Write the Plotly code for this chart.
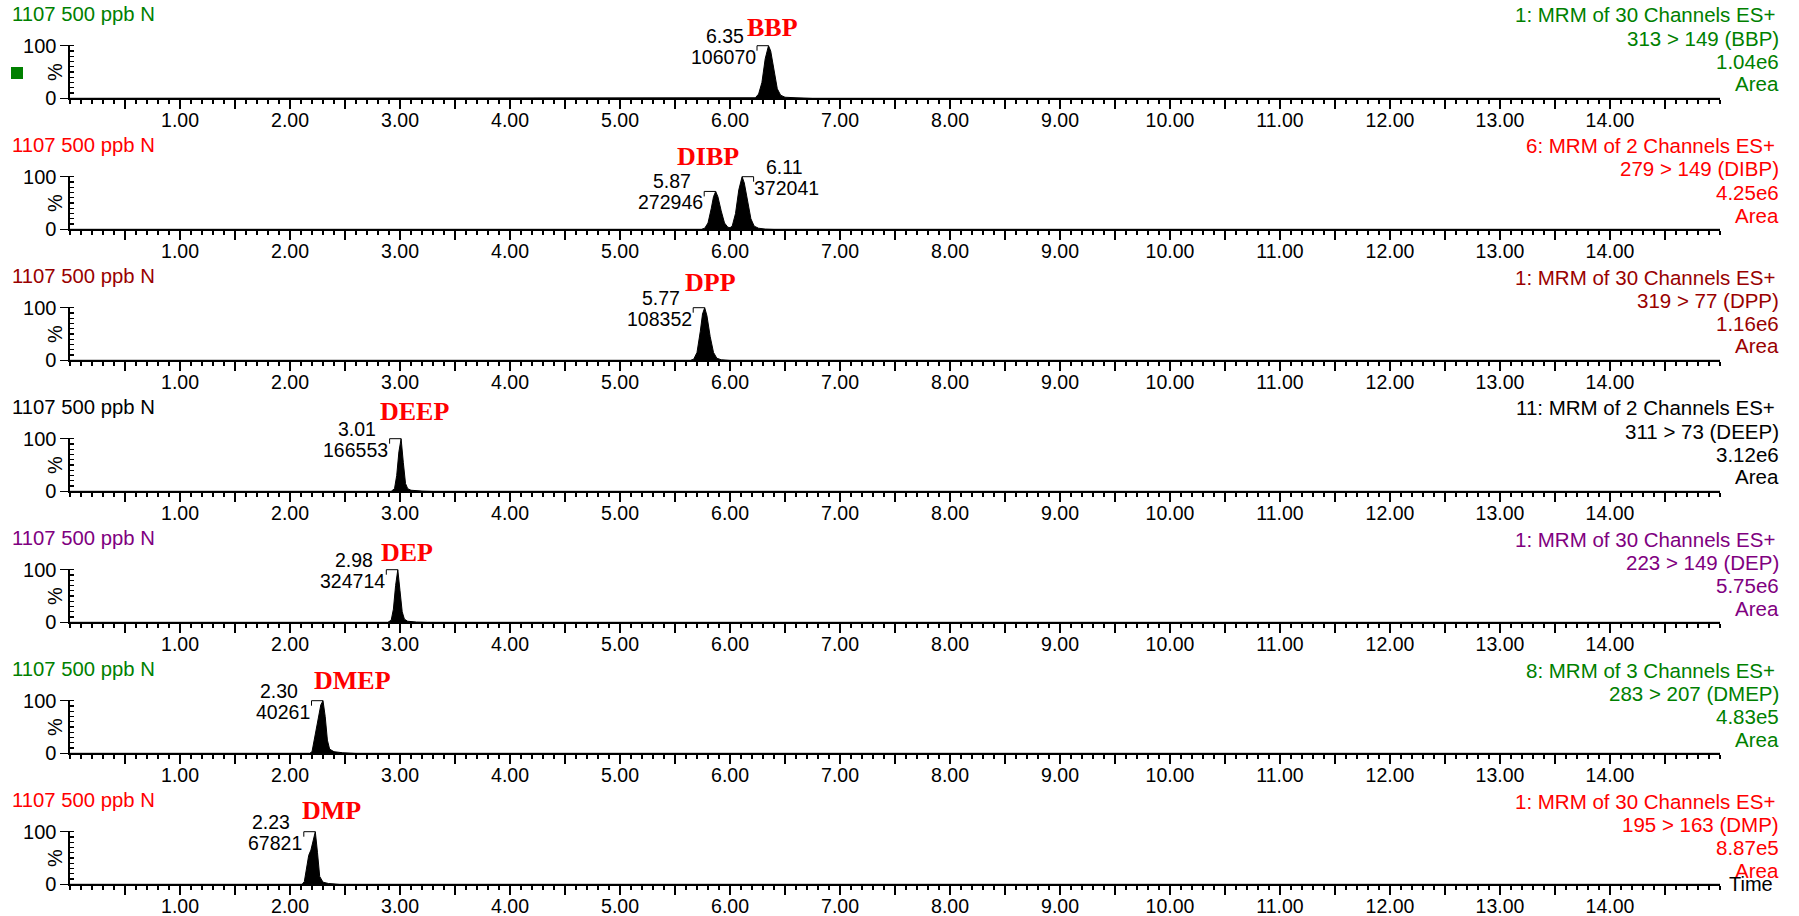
import plotly.graph_objects as go

# ---------------- data ----------------
panel_titles = ["1107 500 ppb N"] * 7
channel_lines = ["1: MRM of 30 Channels ES+", "6: MRM of 2 Channels ES+", "1: MRM of 30 Channels ES+",
                 "11: MRM of 2 Channels ES+", "1: MRM of 30 Channels ES+", "8: MRM of 3 Channels ES+",
                 "1: MRM of 30 Channels ES+"]
transitions = ["313 > 149 (BBP)", "279 > 149 (DIBP)", "319 > 77 (DPP)", "311 > 73 (DEEP)",
               "223 > 149 (DEP)", "283 > 207 (DMEP)", "195 > 163 (DMP)"]
intensities = ["1.04e6", "4.25e6", "1.16e6", "3.12e6", "5.75e6", "4.83e5", "8.87e5"]
compounds = ["BBP", "DIBP", "DPP", "DEEP", "DEP", "DMEP", "DMP"]
panel_colors = ["#008000", "#ff0000", "#990000", "#000000", "#800080", "#008000", "#ff0000"]

# chromatogram traces (time, %)
t_bbp = [0.0, 6.20, 6.23, 6.26, 6.29, 6.32, 6.35, 6.37, 6.40, 6.43, 6.46, 6.50, 6.60, 6.75, 15.0]
p_bbp = [0, 0, 1, 8, 30, 75, 100, 90, 50, 18, 6, 2, 1, 0, 0]

t_dibp = [0.0, 5.74, 5.77, 5.80, 5.83, 5.85, 5.87, 5.89, 5.92, 5.95, 5.98, 6.00, 6.02, 6.05, 6.08,
          6.11, 6.13, 6.16, 6.19, 6.22, 6.26, 6.32, 6.40, 15.0]
p_dibp = [0, 0, 2, 12, 40, 62, 72, 62, 35, 12, 4, 3, 6, 30, 75, 100, 88, 50, 20, 6, 2, 0.5, 0, 0]

t_dpp = [0.0, 5.64, 5.67, 5.70, 5.73, 5.75, 5.77, 5.79, 5.82, 5.85, 5.88, 5.92, 6.00, 15.0]
p_dpp = [0, 0, 2, 15, 55, 88, 100, 85, 45, 15, 4, 1, 0, 0]

t_deep = [0.0, 2.92, 2.95, 2.97, 2.99, 3.01, 3.03, 3.05, 3.07, 3.10, 3.20, 3.30, 15.0]
p_deep = [0, 0, 5, 30, 75, 100, 55, 15, 5, 2, 0.5, 0, 0]

t_dep = [0.0, 2.89, 2.92, 2.94, 2.96, 2.98, 3.00, 3.02, 3.04, 3.07, 3.15, 3.25, 15.0]
p_dep = [0, 0, 4, 25, 70, 100, 60, 20, 6, 2, 0.5, 0, 0]

t_dmep = [0.0, 2.18, 2.20, 2.22, 2.25, 2.28, 2.30, 2.32, 2.34, 2.36, 2.40, 2.48, 2.60, 15.0]
p_dmep = [0, 0, 3, 25, 60, 92, 100, 70, 25, 8, 3, 1, 0, 0]

t_dmp = [0.0, 2.11, 2.13, 2.15, 2.17, 2.19, 2.21, 2.23, 2.25, 2.27, 2.30, 2.35, 2.45, 15.0]
p_dmp = [0, 0, 5, 30, 55, 65, 85, 100, 60, 15, 4, 1.5, 0, 0]

traces_t = [t_bbp, t_dibp, t_dpp, t_deep, t_dep, t_dmep, t_dmp]
traces_p = [p_bbp, p_dibp, p_dpp, p_deep, p_dep, p_dmep, p_dmp]

# labelled peaks per panel: retention time, area, apex height (%)
peak_rt = [[6.35], [5.87, 6.11], [5.77], [3.01], [2.98], [2.30], [2.23]]
peak_area = [["106070"], ["272946", "372041"], ["108352"], ["166553"], ["324714"], ["40261"], ["67821"]]
peak_height = [[100], [72, 100], [100], [100], [100], [100], [100]]
peak_side = [["left"], ["left", "right"], ["left"], ["left"], ["left"], ["left"], ["left"]]

x_tick_labels = ["1.00", "2.00", "3.00", "4.00", "5.00", "6.00", "7.00",
                 "8.00", "9.00", "10.00", "11.00", "12.00", "13.00", "14.00"]

# ---------------- layout constants (positions / styles) ----------------
W, H = 1799, 916
PANEL_STEP = 131.0
Y100_PX = 45.7
Y0_PX = 98.3
X0_PX, X1_PX = 70, 1720
YMAX = 102
compound_label_pos = [(6.39, 134), (5.80, 139), (5.82, 147), (3.136, 151), (3.064, 132), (2.568, 139), (2.373, 141)]

TXT_FONT = "Liberation Sans, Arial, sans-serif"
SERIF = "Liberation Serif, Times New Roman, serif"


def py(px):
    return 1 - px / H


def pxf(px):
    return px / W


fig = go.Figure()
annotations = []
shapes = []
layout = {}

px_per_pct = (Y0_PX - Y100_PX) / 100.0
bracket_dt = 11.5 / ((X1_PX - X0_PX) / 15.0)
bracket_dp = 5.0 / px_per_pct

for i in range(7):
    n = i + 1
    xa = "x" if n == 1 else f"x{n}"
    ya = "y" if n == 1 else f"y{n}"
    y0 = Y0_PX + PANEL_STEP * i
    ytop = y0 - YMAX * px_per_pct
    col = panel_colors[i]

    fig.add_trace(go.Scatter(x=traces_t[i], y=traces_p[i], mode="lines", fill="tozeroy",
                             fillcolor="black", line=dict(color="black", width=1),
                             xaxis=xa, yaxis=ya, showlegend=False, hoverinfo="skip"))

    # peak brackets
    for rt, h, side in zip(peak_rt[i], peak_height[i], peak_side[i]):
        end = rt - bracket_dt if side == "left" else rt + bracket_dt
        fig.add_trace(go.Scatter(x=[end, end, rt], y=[h - bracket_dp, h, h], mode="lines",
                                 line=dict(color="black", width=1), xaxis=xa, yaxis=ya,
                                 showlegend=False, hoverinfo="skip"))
    for rt, area, h, side in zip(peak_rt[i], peak_area[i], peak_height[i], peak_side[i]):
        if side == "left":
            anchor, s_top, s_bot = "right", -23, -11
        else:
            anchor, s_top, s_bot = "left", 22, 10
        annotations.append(dict(x=rt, y=h, xref=xa, yref=ya, text=f"{rt:.2f}", showarrow=False,
                                xanchor=anchor, yanchor="middle", xshift=s_top, yshift=10,
                                font=dict(family=TXT_FONT, size=19.5, color="black")))
        annotations.append(dict(x=rt, y=h, xref=xa, yref=ya, text=area, showarrow=False,
                                xanchor=anchor, yanchor="middle", xshift=s_bot, yshift=-11,
                                font=dict(family=TXT_FONT, size=19.5, color="black")))

    lx, lpct = compound_label_pos[i]
    annotations.append(dict(x=lx, y=py(y0 - lpct * px_per_pct), xref=xa, yref="paper",
                            text=f"<b>{compounds[i]}</b>", showarrow=False,
                            xanchor="center", yanchor="middle",
                            font=dict(family=SERIF, size=26, color="#ff0000")))

    # headers
    base = PANEL_STEP * i
    annotations.append(dict(x=pxf(10), y=py(14 + base), xref="paper", yref="paper", text=panel_titles[i],
                            showarrow=False, xanchor="left", yanchor="middle",
                            font=dict(family=TXT_FONT, size=20.3, color=col)))
    for k, txt in enumerate([channel_lines[i], transitions[i], intensities[i], "Area"]):
        annotations.append(dict(x=pxf(1781 if k else 1777), y=py(15 + 23 * k + base), xref="paper", yref="paper",
                                text=txt, showarrow=False, xanchor="right", yanchor="middle",
                                font=dict(family=TXT_FONT, size=20.5, color=col)))
    # % label
    annotations.append(dict(x=pxf(55), y=py((Y100_PX + Y0_PX) / 2 + base), xref="paper", yref="paper",
                            text="%", showarrow=False, textangle=-90, xanchor="center", yanchor="middle",
                            font=dict(family=TXT_FONT, size=20, color="black")))

    xkey = "xaxis" if n == 1 else f"xaxis{n}"
    ykey = "yaxis" if n == 1 else f"yaxis{n}"
    tickvals = [k * 0.5 for k in range(1, 30)]
    ticktext = [x_tick_labels[int(v) - 1] if float(v).is_integer() else "" for v in tickvals]
    layout[xkey] = dict(domain=[pxf(X0_PX), pxf(X1_PX)], anchor=ya, range=[0, 15], automargin=False,
                        showgrid=False, zeroline=False, showline=True, linecolor="black", linewidth=1.6,
                        ticks="outside", ticklen=9, tickwidth=1.2, tickcolor="black",
                        tickvals=tickvals, ticktext=ticktext, ticklabelstandoff=-5,
                        tickfont=dict(family=TXT_FONT, size=19.5, color="black"),
                        minor=dict(dtick=0.1, tick0=0, ticks="outside", ticklen=4, tickwidth=1.1,
                                   tickcolor="black"))
    layout[ykey] = dict(domain=[py(y0), py(ytop)], anchor=xa, range=[0, YMAX], automargin=False,
                        showgrid=False, zeroline=False, showline=True, linecolor="black", linewidth=1.6,
                        ticks="outside", ticklen=8, tickwidth=1.2, tickcolor="black",
                        tickvals=[0, 100], ticktext=["0", "100"], ticklabelstandoff=0,
                        tickfont=dict(family=TXT_FONT, size=20, color="black"),
                        minor=dict(dtick=10, tick0=0, ticks="inside", ticklen=4, tickwidth=1.1,
                                   tickcolor="black"))

annotations.append(dict(x=pxf(1727), y=py(884), xref="paper", yref="paper", text="Time", showarrow=False,
                        xanchor="left", yanchor="middle", font=dict(family=TXT_FONT, size=20, color="black")))

shapes.append(dict(type="rect", xref="paper", yref="paper", x0=pxf(11), x1=pxf(23), y0=py(79), y1=py(67),
                   fillcolor="#008000", line=dict(width=0)))

fig.update_layout(width=W, height=H, margin=dict(l=0, r=0, t=0, b=0, pad=0, autoexpand=False),
                  paper_bgcolor="white", plot_bgcolor="white", showlegend=False, hovermode=False,
                  annotations=annotations, shapes=shapes, **layout)

fig.write_html("out.html", config={"displayModeBar": False, "staticPlot": True},
               post_script="document.body.style.margin='0';document.body.style.overflow='hidden';")
